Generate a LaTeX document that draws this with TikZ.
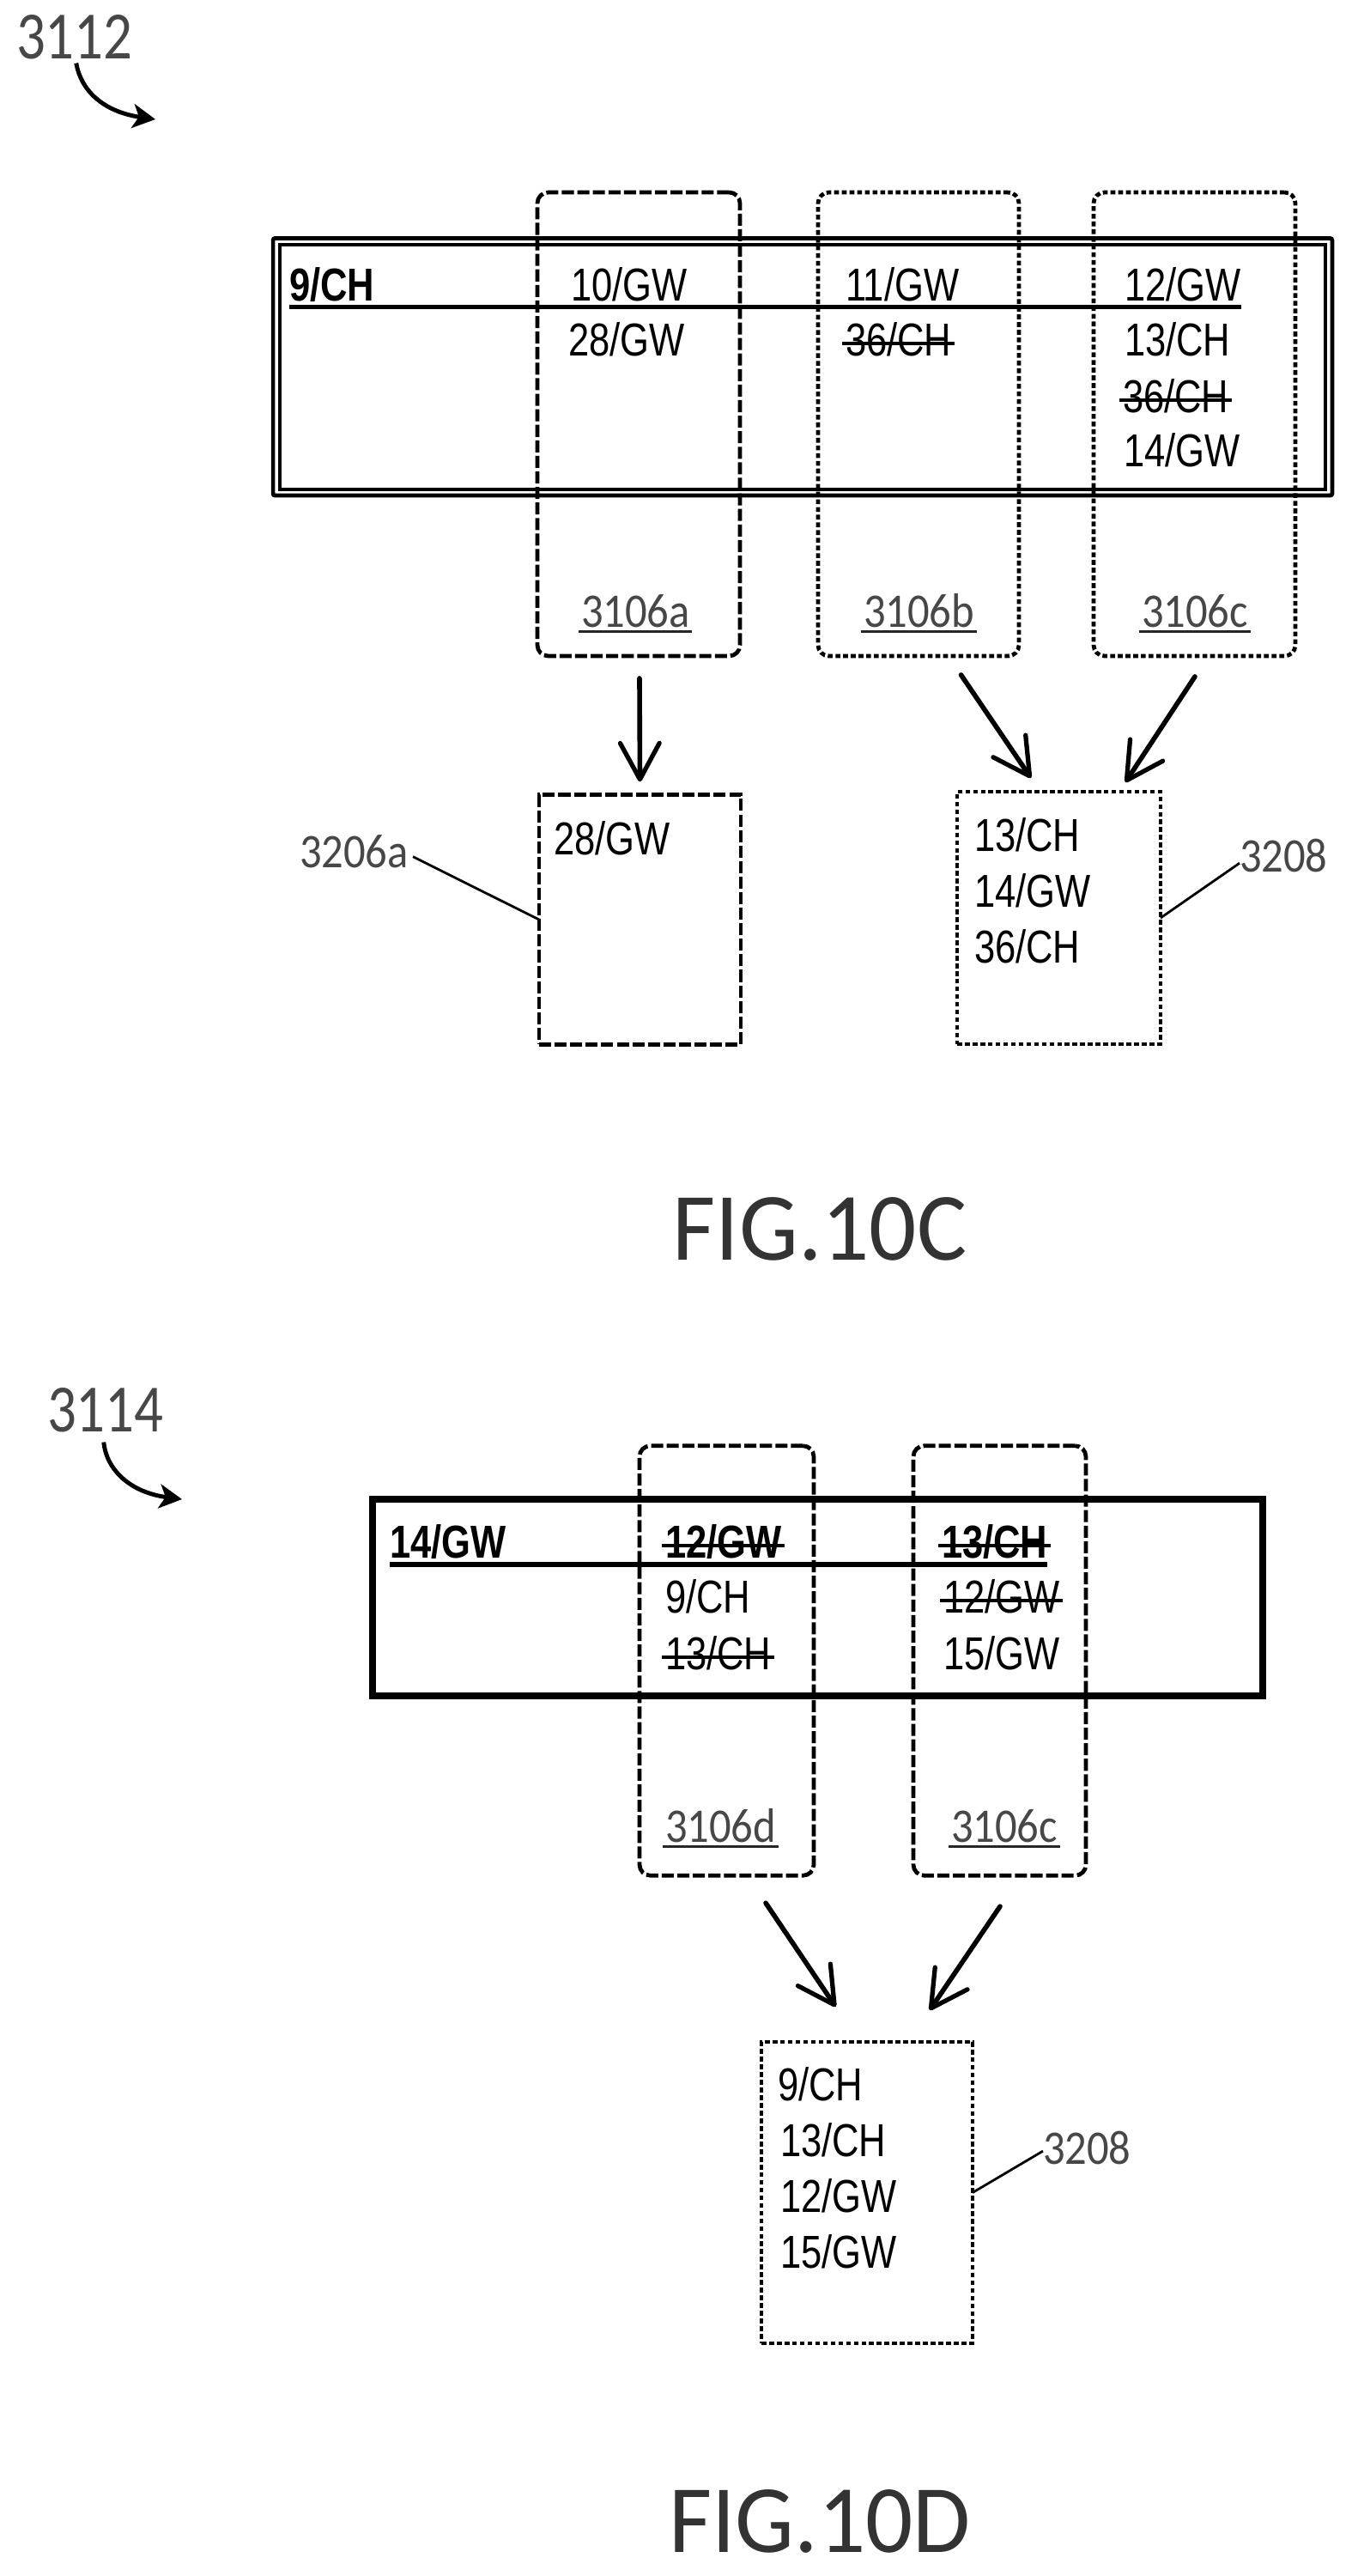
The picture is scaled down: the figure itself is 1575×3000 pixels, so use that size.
\documentclass[tikz,border=0pt]{standalone}
\usepackage{fontspec}
\usetikzlibrary{arrows.meta,calc}
\newfontfamily\txtf[FakeStretch=0.81]{Liberation Sans}
\newfontfamily\lblf[FakeStretch=0.90]{Carlito}
\newfontfamily\reff[FakeStretch=0.85]{Carlito}
\newfontfamily\figf[FakeStretch=0.97]{Carlito}
\tikzset{
  x=0.02cm,y=-0.02cm,
  every node/.style={inner sep=0pt,outer sep=0pt},
  txt/.style={anchor=base west,font=\txtf\fontsize{30.6pt}{36pt}\selectfont},
  txtb/.style={anchor=base west,font=\txtf\bfseries\fontsize{30.6pt}{36pt}\selectfont},
  lbl/.style={anchor=base west,text=black!72,font=\lblf\fontsize{32pt}{36pt}\selectfont},
  refl/.style={anchor=base west,text=black!72,font=\reff\fontsize{44.8pt}{50pt}\selectfont},
  figl/.style={anchor=base,text=black!80,font=\figf\fontsize{64pt}{66pt}\selectfont},
  dashbox/.style={draw,line width=2.7pt,dash pattern=on 8pt off 2.3pt,rounded corners=0.25cm},
  dotbox/.style={draw,line width=2.7pt,dash pattern=on 3.2pt off 1.9pt,rounded corners=0.25cm},
  dashsq/.style={draw,line width=2.7pt,dash pattern=on 8pt off 2.3pt},
  dotsq/.style={draw,line width=2.7pt,dash pattern=on 3.2pt off 1.9pt},
  arr/.style={line width=3.2pt,line cap=round,-{Straight Barb[length=24pt,width=26pt,line width=3pt,round]}},
  curvearr/.style={line width=2.8pt,-{Stealth[length=15pt,width=16pt,inset=4pt]}},
  lead/.style={line width=1.6pt},
  strikeln/.style={line width=2.3pt},
  headln/.style={line width=3pt},
  ul/.style={line width=1.6pt,black!85},
}
\newcommand{\strk}[1]{\draw[strikeln] ([xshift=-2pt,yshift=8pt]#1.base west) -- ([xshift=2pt,yshift=8pt]#1.base east);}
\newcommand{\undl}[1]{\draw[ul] ([xshift=-1.5pt,yshift=-3pt]#1.base west) -- ([xshift=1.5pt,yshift=-3pt]#1.base east);}
\begin{document}
\begin{tikzpicture}
\useasboundingbox (0,0) rectangle (1575,3000);
\fill[white] (0,0) rectangle (1575,3000);
% ---------- FIG 10C
\node[refl] (l3112) at (19,68) {3112};
\coordinate (t3112) at (181,139);
\draw[curvearr] ($(l3112.south)+(2,5)$) .. controls (94,105) and (120,130) .. (t3112);
% table
\node[draw,line width=2.7pt,rounded corners=1.2pt,minimum width=24.68cm,minimum height=5.99cm] (outerA) at (935,427.25) {};
\node[draw,line width=2pt,minimum width=24.36cm,minimum height=5.70cm] (innerA) at (935,427.5) {};
% groups
\node[dashbox,minimum width=4.72cm,minimum height=10.8cm] (g3106a) at (744,494) {};
\node[dotbox,minimum width=4.68cm,minimum height=10.8cm] (g3106b) at (1070,494) {};
\node[dotbox,minimum width=4.70cm,minimum height=10.8cm] (g3106c) at (1391.5,494) {};
% text
\node[txtb] (hA) at (337,350) {9/CH};
\node[txt] (t10) at (665,350) {10/GW};
\node[txt] (t11) at (985,350) {11/GW};
\node[txt] (t12) at (1310,350) {12/GW};
\draw[headln] ([yshift=-4.2pt]hA.base west) -- ([yshift=-4.2pt]t12.base east);
\node[txt] (t28) at (662,414) {28/GW};
\node[txt] (t36b) at (985,414) {36/CH};
\node[txt] (t13) at (1310,414) {13/CH};
\node[txt] (t36c) at (1308,480) {36/CH};
\node[txt] (t14) at (1309,543) {14/GW};
\strk{t36b}\strk{t36c}
\node[lbl] (n3106a) at (677,730) {3106a};
\node[lbl] (n3106b) at (1006,730) {3106b};
\node[lbl] (n3106c) at (1330,730) {3106c};
\undl{n3106a}\undl{n3106b}\undl{n3106c}
% result boxes
\node[dashsq,minimum width=4.70cm,minimum height=5.81cm] (r3206a) at (745.5,1071) {};
\node[dotsq,minimum width=4.74cm,minimum height=5.88cm] (r3208) at (1233.5,1069) {};
\node[txt] (r28) at (645,995) {28/GW};
\node[txt] (r13) at (1135,991) {13/CH};
\node[txt] (r14) at (1135,1056) {14/GW};
\node[txt] (r36) at (1135,1121) {36/CH};
\draw[arr] ($(g3106a.south)+(1,26)$) -- ($(r3206a.north)+(0,-15.5)$);
\draw[arr] ($(g3106b.south)+(49.5,22)$) -- ($(r3208.north)+(-32.5,-16)$);
\draw[arr] ($(g3106c.south)+(0.5,24)$) -- ($(r3208.north)+(77.5,-11)$);
\node[lbl] (l3206a) at (349,1010) {3206a};
\node[lbl] (l3208) at (1444,1015) {3208};
\draw[lead] ([xshift=3pt,yshift=7pt]l3206a.base east) -- (r3206a.west);
\draw[lead] ([yshift=5.6pt]l3208.base west) -- (r3208.east);
\node[figl] (figC) at (955,1467) {FIG.10C};
% ---------- FIG 10D
\node[refl] (l3114) at (55,1667) {3114};
\coordinate (t3114) at (212,1746);
\draw[curvearr] ($(l3114.south)+(-2,12)$) .. controls (124,1712) and (152,1738) .. (t3114);
\node[draw,line width=4.4pt,minimum width=20.74cm,minimum height=4.58cm] (outerB) at (952.5,1860.5) {};
\node[dashbox,minimum width=4.06cm,minimum height=10.01cm] (g3106d) at (846.5,1934) {};
\node[dashbox,minimum width=4.02cm,minimum height=10.01cm] (g3106e) at (1164.5,1934) {};
\node[txtb] (hB) at (454,1814) {14/GW};
\node[txtb] (u12) at (775,1814) {12/GW};
\node[txtb] (u13) at (1097,1814) {13/CH};
\draw[headln] ([yshift=-4.5pt]hB.base west) -- ([yshift=-4.5pt]u13.base east);
\node[txt] (u9) at (775,1878) {9/CH};
\node[txt] (u12b) at (1099,1878) {12/GW};
\node[txt] (u13b) at (775,1944) {13/CH};
\node[txt] (u15) at (1099,1944) {15/GW};
\strk{u12}\strk{u13}\strk{u12b}\strk{u13b}
\node[lbl] (n3106d) at (775,2145) {3106d};
\node[lbl] (n3106e) at (1108,2145) {3106c};
\undl{n3106d}\undl{n3106e}
\node[dotsq,minimum width=4.92cm,minimum height=7.02cm] (s3208) at (1010,2553.5) {};
\node[txt] (s9) at (906,2446) {9/CH};
\node[txt] (s13) at (909,2511) {13/CH};
\node[txt] (s12) at (909,2576) {12/GW};
\node[txt] (s15) at (909,2641) {15/GW};
\draw[arr] ($(g3106d.south)+(45.5,32)$) -- ($(s3208.north)+(-36.5,-41)$);
\draw[arr] ($(g3106e.south)+(0.5,36)$) -- ($(s3208.north)+(73,-37)$);
\node[lbl] (l3208b) at (1215,2520) {3208};
\draw[lead] ([yshift=8.5pt]l3208b.base west) -- (s3208.east);
\node[figl] (figD) at (955,2972) {FIG.10D};
\end{tikzpicture}
\end{document}
